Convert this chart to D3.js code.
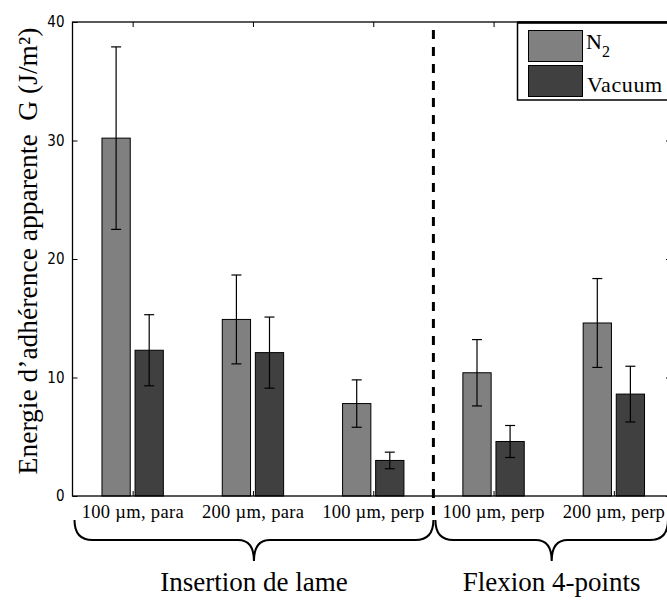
<!DOCTYPE html>
<html>
<head>
<meta charset="utf-8">
<script src="https://cdn.jsdelivr.net/npm/d3@7"></script>
<style>
  body { margin: 0; background: #fff; }
</style>
</head>
<body>
<svg id="chart" width="667" height="602"></svg>
<script>
var categories = ["100 \u00b5m, para", "200 \u00b5m, para", "100 \u00b5m, perp", "100 \u00b5m, perp", "200 \u00b5m, perp"];
var n2Values = [30.2, 14.9, 7.8, 10.4, 14.6];
var n2Errors = [7.7, 3.75, 2.0, 2.8, 3.75];
var vacuumValues = [12.3, 12.1, 3.0, 4.6, 8.6];
var vacuumErrors = [3.0, 3.0, 0.7, 1.35, 2.35];
var yTicks = [0, 10, 20, 30, 40];
var groups = [
    { label: "Insertion de lame", from: 0.5, to: 3.5 },
    { label: "Flexion 4-points", from: 3.5, to: 5.45 }
];
var seriesNames = ["N", "Vacuum"];

var serif = "'Liberation Serif', 'Times New Roman', 'DejaVu Serif', serif";
var narrow = "'Liberation Sans Narrow', 'DejaVu Sans Condensed', 'Liberation Sans', sans-serif";

var svg = d3.select("#chart").attr("font-family", serif);

var x = d3.scaleLinear().domain([0.5, 5.5]).range([72.5, 674]);
var y = d3.scaleLinear().domain([0, 40]).range([496, 22]);

var n2Color = "#808080", vacColor = "#404040";

var rows = categories.map(function (c, i) {
    return { i: i + 1, cat: c, n2: n2Values[i], n2e: n2Errors[i], vac: vacuumValues[i], vace: vacuumErrors[i] };
});

// bars
var bw = 0.235;
var series = [
    { key: "n2", err: "n2e", off: -0.255, color: n2Color },
    { key: "vac", err: "vace", off: 0.02, color: vacColor }
];

series.forEach(function (s) {
    svg.append("g").selectAll("rect")
        .data(rows).enter().append("rect")
        .attr("x", d => x(d.i + s.off))
        .attr("width", x(bw) - x(0))
        .attr("y", d => y(d[s.key]))
        .attr("height", d => y(0) - y(d[s.key]))
        .attr("fill", s.color)
        .attr("stroke", "#000")
        .attr("stroke-width", 1);

    var eb = svg.append("g").attr("stroke", "#000").attr("stroke-width", 1.2);
    var cx = d => x(d.i + s.off + bw / 2);
    eb.selectAll("line.v").data(rows).enter().append("line")
        .attr("x1", cx).attr("x2", cx)
        .attr("y1", d => y(d[s.key] + d[s.err]))
        .attr("y2", d => y(d[s.key] - d[s.err]));
    eb.selectAll("line.t").data(rows).enter().append("line")
        .attr("x1", d => cx(d) - 5).attr("x2", d => cx(d) + 5)
        .attr("y1", d => y(d[s.key] + d[s.err]))
        .attr("y2", d => y(d[s.key] + d[s.err]));
    eb.selectAll("line.b").data(rows).enter().append("line")
        .attr("x1", d => cx(d) - 5).attr("x2", d => cx(d) + 5)
        .attr("y1", d => y(d[s.key] - d[s.err]))
        .attr("y2", d => y(d[s.key] - d[s.err]));
});

// axes box
var x0 = x.range()[0], x1 = x.range()[1];
svg.append("rect")
    .attr("x", x0).attr("y", y(40))
    .attr("width", x1 - x0).attr("height", y(0) - y(40))
    .attr("fill", "none").attr("stroke", "#000").attr("stroke-width", 1.3);

var leftAxis = d3.axisLeft(y).tickValues(yTicks).tickSize(-5).tickPadding(8);
var rightAxis = d3.axisRight(y).tickValues(yTicks).tickSize(-8).tickFormat("");
var bottomAxis = d3.axisBottom(x).tickValues(rows.map(d => d.i)).tickSize(-5).tickFormat("");
var topAxis = d3.axisTop(x).tickValues(rows.map(d => d.i)).tickSize(-5).tickFormat("");

function styleAxis(g) {
    g.select(".domain").remove();
    g.selectAll(".tick line").attr("stroke", "#000");
}

svg.append("g").attr("transform", "translate(" + x0 + ",0)").call(leftAxis).call(styleAxis)
    .attr("font-family", narrow).attr("font-size", 15)
    .selectAll("text").attr("fill", "#000");
svg.append("g").attr("transform", "translate(" + x1 + ",0)").call(rightAxis).call(styleAxis);
svg.append("g").attr("transform", "translate(0," + y(0) + ")").call(bottomAxis).call(styleAxis);
svg.append("g").attr("transform", "translate(0," + y(40) + ")").call(topAxis).call(styleAxis);

// category labels
svg.append("g").selectAll("text")
    .data(rows).enter().append("text")
    .attr("x", d => x(d.i))
    .attr("y", 518)
    .attr("text-anchor", "middle")
    .attr("font-size", 18.5)
    .attr("textLength", 102)
    .attr("lengthAdjust", "spacing")
    .text(d => d.cat);

// separator
svg.append("line")
    .attr("x1", x(3.5)).attr("x2", x(3.5))
    .attr("y1", 30).attr("y2", 522)
    .attr("stroke", "#000").attr("stroke-width", 3)
    .attr("stroke-dasharray", "9,8");

// braces
function brace(xa, xb, top, mid, bottom) {
    var xm = (xa + xb) / 2, r = 18, c = 16;
    return "M " + xa + " " + top +
        " Q " + xa + " " + mid + " " + (xa + r) + " " + mid +
        " L " + (xm - c) + " " + mid +
        " Q " + xm + " " + mid + " " + xm + " " + bottom +
        " Q " + xm + " " + mid + " " + (xm + c) + " " + mid +
        " L " + (xb - r) + " " + mid +
        " Q " + xb + " " + mid + " " + xb + " " + top;
}
svg.append("g").selectAll("path")
    .data(groups).enter().append("path")
    .attr("d", d => brace(x(d.from) + 2, x(d.to), 520, 540, 561))
    .attr("fill", "none").attr("stroke", "#000").attr("stroke-width", 2);

svg.append("g").selectAll("text")
    .data(groups).enter().append("text")
    .attr("x", d => (x(d.from) + 2 + x(d.to)) / 2)
    .attr("y", 591)
    .attr("text-anchor", "middle")
    .attr("font-size", 27)
    .text(d => d.label);

// y label
svg.append("text")
    .attr("transform", "translate(37,251) rotate(-90)")
    .attr("text-anchor", "middle")
    .attr("font-size", 27.5)
    .attr("xml:space", "preserve")
    .style("white-space", "pre")
    .text("Energie d\u2019adh\u00e9rence apparente  G (J/m\u00b2)");

// legend
var legend = svg.append("g");
legend.append("rect")
    .attr("x", 517.5).attr("y", 22.5).attr("width", 170).attr("height", 77.5)
    .attr("fill", "#fff").attr("stroke", "#000").attr("stroke-width", 1.5);
legend.append("line")
    .attr("x1", 517.5).attr("x2", 667).attr("y1", 22.5).attr("y2", 22.5)
    .attr("stroke", "#000").attr("stroke-width", 2.5);
var swatches = [n2Color, vacColor];
legend.selectAll("rect.sw").data(swatches).enter().append("rect")
    .attr("x", 528.5).attr("y", (d, i) => i === 0 ? 30.5 : 65.5)
    .attr("width", 54).attr("height", 31)
    .attr("fill", d => d).attr("stroke", "#000").attr("stroke-width", 1);
var n2Text = legend.append("text").attr("x", 586).attr("y", 49).attr("font-size", 22);
n2Text.append("tspan").text(seriesNames[0]);
n2Text.append("tspan").attr("dy", 8).attr("font-size", 16).text("2");
legend.append("text").attr("x", 587).attr("y", 92).attr("font-size", 22)
    .attr("letter-spacing", 0.6).text(seriesNames[1]);
</script>
</body>
</html>
